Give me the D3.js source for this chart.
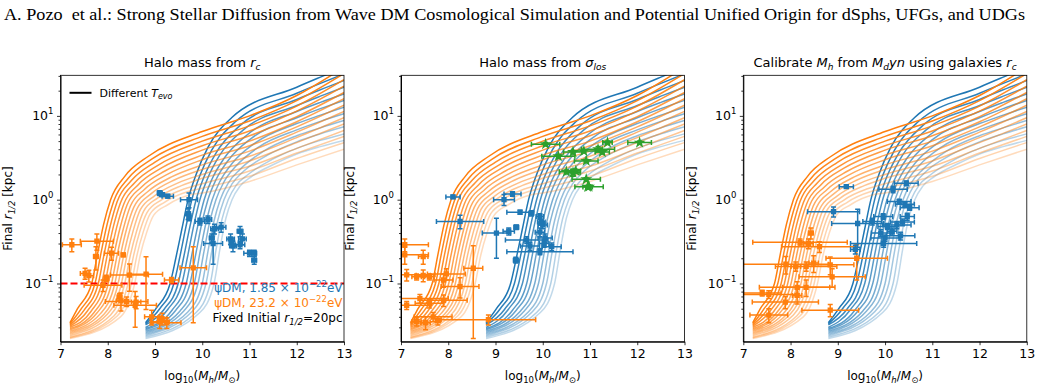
<!DOCTYPE html>
<html>
<head>
<meta charset="utf-8">
<script src="https://cdn.jsdelivr.net/npm/d3@7"></script>
<style>
body { margin: 0; background: #fff; }
svg { font-family: "DejaVu Sans", sans-serif; }
.axis path, .axis line { stroke: #000; }
.axis text { font-size: 12.5px; fill: #000; font-family: "DejaVu Sans", sans-serif; }
</style>
</head>
<body>
<div class="chart"></div>
<script>
// ---- data ----
const xTicks = [7, 8, 9, 10, 11, 12, 13];
const yMajor = [0.1, 1, 10];
const yMinor = [0.03, 0.04, 0.05, 0.06, 0.07, 0.08, 0.09, 0.2, 0.3, 0.4, 0.5, 0.6, 0.7, 0.8, 0.9,
                2, 3, 4, 5, 6, 7, 8, 9, 20, 30];

// model tracks, psiDM 23.2e-22 eV (orange), darkest first
const orangeCurves = [
  [[7.2,.034],[7.36,.05],[7.66,.1],[7.78,.22],[7.91,.5],[8.06,1.0],[8.36,1.9],[8.86,3.3],[10,6.5],[11,10],[12,17.5],[13,38]],
  [[7.2,.033],[7.43,.049],[7.73,.1],[7.85,.22],[7.98,.49],[8.13,.97],[8.43,1.79],[8.93,3.05],[10,5.7],[11,8.7],[12,15.2],[13,32]],
  [[7.2,.032],[7.5,.048],[7.8,.1],[7.92,.22],[8.05,.48],[8.2,.95],[8.5,1.69],[9.0,2.81],[10,5.0],[11,7.6],[12,13.1],[13,27]],
  [[7.2,.031],[7.57,.047],[7.87,.1],[7.99,.22],[8.12,.48],[8.27,.92],[8.57,1.59],[9.07,2.59],[10,4.4],[11,6.6],[12,11.4],[13,22.6]],
  [[7.2,.030],[7.64,.046],[7.94,.1],[8.06,.22],[8.19,.47],[8.34,.89],[8.64,1.5],[9.14,2.39],[10,3.9],[11,5.8],[12,9.8],[13,19]],
  [[7.2,.029],[7.71,.045],[8.01,.1],[8.13,.22],[8.26,.46],[8.41,.87],[8.71,1.41],[9.21,2.2],[10,3.4],[11,5.0],[12,8.5],[13,16]],
  [[7.2,.028],[7.78,.045],[8.08,.1],[8.2,.22],[8.33,.45],[8.48,.84],[8.78,1.33],[9.28,2.03],[10,3.0],[11,4.4],[12,7.4],[13,13.4]],
  [[7.2,.027],[7.85,.044],[8.15,.1],[8.27,.22],[8.4,.45],[8.55,.81],[8.85,1.25],[9.35,1.87],[10,2.6],[11,3.8],[12,6.4],[13,11.3]],
  [[7.2,.026],[7.92,.043],[8.22,.1],[8.34,.22],[8.47,.44],[8.62,.78],[8.92,1.18],[9.42,1.73],[10,2.3],[11,3.3],[12,5.5],[13,9.5]],
  [[7.2,.025],[7.99,.043],[8.29,.1],[8.41,.22],[8.54,.43],[8.69,.76],[8.99,1.11],[9.49,1.59],[10,2.0],[11,2.9],[12,4.8],[13,8]],
  [[7.2,.024],[8.06,.042],[8.36,.1],[8.48,.22],[8.61,.42],[8.76,.73],[9.06,1.05],[9.56,1.47],[10,1.8],[11,2.5],[12,4.1],[13,6.7]],
  [[7.2,.023],[8.13,.041],[8.43,.1],[8.55,.22],[8.68,.42],[8.83,.70],[9.13,.99],[9.63,1.35],[10,1.55],[11,2.2],[12,3.6],[13,5.7]],
  [[7.2,.0225],[8.2,.041],[8.5,.1],[8.62,.22],[8.75,.41],[8.9,.68],[9.2,.93],[9.7,1.25],[10,1.37],[11,1.9],[12,3.1],[13,4.8]],
  [[7.2,.022],[8.27,.04],[8.57,.1],[8.69,.22],[8.82,.40],[8.97,.65],[9.27,.87],[9.77,1.15],[10,1.2],[11,1.65],[12,2.6],[13,4.0]]
];

// model tracks, psiDM 1.85e-22 eV (blue), darkest first
const blueCurves = [
  [[8.8,.034],[9.02,.05],[9.32,.1],[9.44,.2],[9.57,.45],[9.7,1.0],[9.87,2.0],[10.12,4.2],[10.62,9.5],[12,22],[12.5,29],[13,38]],
  [[8.8,.033],[9.1,.05],[9.4,.1],[9.52,.2],[9.65,.46],[9.78,1.0],[9.95,1.94],[10.2,3.9],[10.7,8.5],[12,18.6],[12.5,24.4],[13,31.7]],
  [[8.8,.032],[9.19,.049],[9.49,.1],[9.61,.21],[9.74,.48],[9.87,1.0],[10.04,1.89],[10.29,3.6],[10.79,7.6],[12,15.7],[12.5,20.5],[13,26.4]],
  [[8.8,.030],[9.27,.049],[9.57,.1],[9.69,.21],[9.82,.49],[9.95,1.0],[10.12,1.83],[10.37,3.4],[10.87,6.8],[12,13.3],[12.5,17.2],[13,22]],
  [[8.8,.029],[9.36,.048],[9.66,.1],[9.78,.22],[9.91,.5],[10.04,1.0],[10.21,1.78],[10.46,3.1],[10.96,6.0],[12,11.3],[12.5,14.5],[13,18.3]],
  [[8.8,.028],[9.44,.048],[9.74,.1],[9.86,.22],[9.99,.52],[10.12,1.0],[10.29,1.73],[10.54,2.9],[11.04,5.4],[12,9.5],[12.5,12.2],[13,15.3]],
  [[8.8,.027],[9.53,.047],[9.83,.1],[9.95,.23],[10.08,.53],[10.21,1.0],[10.38,1.68],[10.63,2.7],[11.13,4.8],[12,8.1],[12.5,10.2],[13,12.7]],
  [[8.8,.026],[9.61,.047],[9.91,.1],[10.03,.23],[10.16,.55],[10.29,1.0],[10.46,1.63],[10.71,2.5],[11.21,4.3],[12,6.8],[12.5,8.6],[13,10.6]],
  [[8.8,.025],[9.7,.046],[10,.1],[10.12,.24],[10.25,.56],[10.38,1.0],[10.55,1.58],[10.8,2.3],[11.3,3.8],[12,5.8],[12.5,7.2],[13,8.8]],
  [[8.8,.024],[9.78,.046],[10.08,.1],[10.2,.24],[10.33,.57],[10.46,1.0],[10.63,1.54],[10.88,2.2],[11.38,3.4],[12,4.9],[12.5,6.1],[13,7.4]],
  [[8.8,.023],[9.87,.045],[10.17,.1],[10.29,.25],[10.42,.59],[10.55,1.0],[10.72,1.49],[10.97,2.0],[11.47,3.0],[12,4.1],[12.5,5.1],[13,6.1]],
  [[8.8,.022],[9.95,.045],[10.25,.1],[10.37,.25],[10.5,.6],[10.63,1.0],[10.8,1.45],[11.05,1.9],[11.55,2.7],[12,3.5],[12.5,4.3],[13,5.1]]
];

// galaxies: [log10 Mh, r1/2 kpc, x error (dex), y error (kpc)]
const p1Orange = [
  [7.24,.29,.2,.05],[7.77,.32,.35,.07],[7.75,.21,.05,.065],[8.08,.23,.15,.04],[8.33,.22,.03,.01],
  [7.52,.132,.1,.02],[7.6,.124,.1,.02],[7.97,.115,.05,.01],[7.9,.095,.4,.015],[8.46,.126,.4,.045],
  [8.81,.129,.35,.08],[8.25,.069,.05,.007],[8.28,.062,.1,.015],[8.4,.061,.45,.008],[8.58,.055,.45,.025],
  [8.6,.06,.1,.01],[8.93,.04,.15,.008],[9.1,.035,.2,.006],[9.25,.034,.3,.005],[9.15,.038,.1,.006],
  [9.35,.11,.15,.008],[9.81,.154,.28,.12]
];
const p1Blue = [
  [9.1,1.2,.05,.08],[9.15,1.15,.05,.06],[9.27,1.1,.12,.05],[9.72,1.0,.18,.2],[9.7,.68,.05,.1],
  [9.72,.62,.04,.06],[9.95,.55,.1,.05],[10.12,.58,.08,.06],[10.2,.35,.05,.04],[10.26,.45,.08,.06],
  [10.4,.47,.1,.06],[10.23,.3,.2,.13],[10.6,.34,.08,.05],[10.65,.28,.07,.04],[10.62,.31,.05,.04],
  [10.8,.42,.06,.06],[10.85,.34,.08,.05],[10.8,.29,.1,.03],[11.0,.23,.12,.02],[11.1,.19,.05,.02],
  [11.1,.23,.05,.02]
];
const p2Green = [
  [10.06,4.6,.3,.2],[11.37,4.8,.1,.2],[12.05,4.8,.25,.2],[10.33,3.3,.35,.15],[10.64,3.7,.2,.15],
  [10.87,3.8,.25,.15],[11.17,4.0,.35,.3],[11.26,3.7,.15,.2],[10.92,2.9,.25,.12],[10.5,2.16,.15,.1],
  [10.64,2.1,.15,.2],[10.7,2.2,.1,.1],[10.92,1.75,.3,.08],[10.98,1.43,.3,.08],[10.95,1.42,.1,.06]
];
const p2Blue = [
  [8.1,1.08,.15,.05],[8.25,.55,.5,.1],[9.36,1.17,.18,.07],[9.18,1.0,.22,.15],[9.52,.71,.28,.04],
  [9.02,.4,.3,.2],[9.28,.42,.12,.04],[9.44,.47,.05,.03],[9.43,.19,.05,.015],[9.76,.69,.05,.05],
  [9.94,.63,.08,.05],[10.0,.5,.1,.05],[9.66,.33,.45,.03],[9.73,.28,.2,.03],[9.94,.24,.7,.02],
  [9.94,.41,.1,.05],[10.05,.35,.15,.04],[10.03,.3,.1,.03],[10.19,.275,.2,.03],[9.97,.54,.08,.04]
];
const p2Orange = [
  [7.08,.29,.5,.05],[7.08,.22,.5,.05],[7.47,.21,.1,.04],[7.12,.127,.6,.02],[7.33,.12,.1,.01],
  [7.47,.125,.15,.02],[7.6,.12,.1,.01],[7.96,.13,.4,.02],[7.9,.11,.2,.02],[8.25,.092,.4,.025],
  [8.53,.152,.2,.13],[7.12,.055,.5,.006],[7.4,.066,.6,.008],[7.6,.058,.3,.007],[7.9,.063,.5,.01],
  [7.68,.04,.4,.005],[7.52,.034,.1,.006],[7.33,.035,.1,.004],[8.85,.037,1.0,.005],[7.78,.036,.05,.004]
];
const p3Blue = [
  [9.18,1.43,.15,.06],[8.91,.72,.55,.1],[9.42,.52,.55,.25],[9.37,.255,.1,.03],[10.45,1.57,.25,.1],
  [10.17,1.33,.3,.12],[10.3,.95,.25,.06],[10.42,.88,.2,.06],[10.52,.8,.2,.05],[9.96,.63,.2,.05],
  [10.47,.63,.15,.06],[10.37,.54,.25,.05],[10.05,.48,.2,.04],[10.25,.5,.3,.05],[9.91,.4,.2,.04],
  [10.15,.42,.1,.04],[9.97,.3,.7,.03],[10.33,.37,.3,.04],[9.73,.55,.2,.05],[10.0,.35,.3,.03]
];
const p3Orange = [
  [8.43,.4,.05,.06],[8.38,.3,.1,.04],[8.2,.31,1.0,.03],[8.61,.275,.8,.04],[7.9,.17,.9,.04],
  [8.11,.16,.1,.02],[8.33,.16,.65,.02],[8.49,.175,.1,.04],[8.84,.167,.5,.04],[9.4,.2,.65,.09],
  [8.88,.12,.7,.03],[8.14,.09,.8,.015],[8.33,.09,.5,.02],[8.14,.072,.1,.015],[7.4,.077,.4,.006],
  [7.54,.074,.6,.008],[7.89,.06,.7,.01],[7.54,.042,.4,.008],[8.84,.048,.6,.008]
];

// ---- layout ----
const C_BLUE = "#1f77b4", C_ORANGE = "#ff7f0e", C_GREEN = "#2ca02c";
var width = 1041, height = 386;
var panelLeft = [60.5, 401, 743.3];
var pw = 283.5, pTop = 75.3, pBot = 341.7, ph = pBot - pTop;

var svg = d3.select(".chart").append("svg")
    .attr("width", width)
    .attr("height", height);

svg.append("text")
    .attr("x", 4).attr("y", 20)
    .attr("textLength", 1021).attr("lengthAdjust", "spacingAndGlyphs")
    .style("font-family", "'Liberation Serif', 'Times New Roman', serif")
    .style("font-size", "17.5px")
    .text("A. Pozo\u00a0 et al.: Strong Stellar Diffusion from Wave DM Cosmological Simulation and Potential Unified Origin for dSphs, UFGs, and UDGs");

const xScale = d3.scaleLinear().domain([7, 13]).range([0, pw]);
const yScale = d3.scaleLog().domain([0.0202, 30.5]).range([ph, 0]);

const line = d3.line()
    .x(d => xScale(d[0]))
    .y(d => yScale(d[1]))
    .curve(d3.curveMonotoneX);

function supLabel(sel, base, exp) {
    sel.text(base);
    sel.append("tspan").attr("dy", -6).attr("font-size", "8.5px").text(exp);
}

function errorbars(g, data, color, symbol, size) {
    const grp = g.append("g").attr("stroke", color).attr("fill", color).attr("stroke-width", 1.5);
    data.forEach(d => {
        const cx = xScale(d[0]), cy = yScale(d[1]);
        const x0 = xScale(d[0] - d[2]), x1 = xScale(d[0] + d[2]);
        const y0 = yScale(Math.max(d[1] - d[3], 0.005)), y1 = yScale(d[1] + d[3]);
        grp.append("line").attr("x1", x0).attr("x2", x1).attr("y1", cy).attr("y2", cy);
        grp.append("line").attr("x1", cx).attr("x2", cx).attr("y1", y0).attr("y2", y1);
        [x0, x1].forEach(v => grp.append("line").attr("x1", v).attr("x2", v).attr("y1", cy - 2.5).attr("y2", cy + 2.5));
        [y0, y1].forEach(v => grp.append("line").attr("x1", cx - 2.5).attr("x2", cx + 2.5).attr("y1", v).attr("y2", v));
        grp.append("path")
            .attr("d", d3.symbol().type(symbol).size(size)())
            .attr("transform", `translate(${cx},${cy})`)
            .attr("stroke", "none");
    });
}

function drawPanel(k, points) {
    const g = svg.append("g").attr("transform", `translate(${panelLeft[k]},${pTop})`);

    g.append("clipPath").attr("id", "clip" + k)
        .append("rect").attr("width", pw).attr("height", ph);
    const plot = g.append("g").attr("clip-path", `url(#clip${k})`);

    // model tracks
    blueCurves.forEach((c, i) => {
        plot.append("path").attr("d", line(c))
            .attr("fill", "none").attr("stroke", C_BLUE).attr("stroke-width", 1.5)
            .attr("stroke-opacity", 1 - 0.72 * i / (blueCurves.length - 1));
    });
    orangeCurves.forEach((c, i) => {
        plot.append("path").attr("d", line(c))
            .attr("fill", "none").attr("stroke", C_ORANGE).attr("stroke-width", 1.5)
            .attr("stroke-opacity", 1 - 0.72 * i / (orangeCurves.length - 1));
    });

    if (k === 0) {
        plot.append("line")
            .attr("x1", 0).attr("x2", pw)
            .attr("y1", yScale(0.1)).attr("y2", yScale(0.1))
            .attr("stroke", "red").attr("stroke-width", 2)
            .attr("stroke-dasharray", "7,3");
    }

    points.forEach(p => errorbars(plot, p[0], p[1], p[2], p[3]));

    // axes
    const xAxis = d3.axisBottom(xScale).tickValues(xTicks).tickFormat(d3.format("d"))
        .tickSize(3.5).tickPadding(3.5).tickSizeOuter(0);
    g.append("g").attr("class", "axis x-axis")
        .attr("transform", `translate(0,${ph})`)
        .call(xAxis);

    const yAxis = d3.axisLeft(yScale).tickValues(yMajor).tickSize(3.5).tickPadding(3.5)
        .tickSizeOuter(0).tickFormat(() => "");
    const ya = g.append("g").attr("class", "axis y-axis").call(yAxis);
    ya.selectAll(".tick text").each(function(d) {
        supLabel(d3.select(this), "10", d === 0.1 ? "\u22121" : d === 1 ? "0" : "1");
    });
    g.append("g").attr("class", "axis")
        .call(d3.axisLeft(yScale).tickValues(yMinor).tickSize(2).tickFormat(() => "").tickSizeOuter(0))
        .select(".domain").remove();

    g.selectAll(".axis .tick line").attr("stroke-width", 0.8);
    g.append("rect").attr("width", pw).attr("height", ph)
        .attr("fill", "none").attr("stroke", "#000").attr("stroke-width", 0.8);

    // axis labels
    const xl = g.append("text").attr("x", pw / 2).attr("y", ph + 38.5)
        .attr("text-anchor", "middle").style("font-size", "12px");
    xl.append("tspan").text("log");
    xl.append("tspan").attr("dy", 3).attr("font-size", "8.5px").text("10");
    xl.append("tspan").attr("dy", -3).text("(");
    xl.append("tspan").attr("font-style", "italic").text("M");
    xl.append("tspan").attr("dy", 3).attr("font-size", "8.5px").attr("font-style", "italic").text("h");
    xl.append("tspan").attr("dy", -3).text("/");
    xl.append("tspan").attr("font-style", "italic").text("M");
    xl.append("tspan").attr("dy", 3).attr("font-size", "8.5px").text("\u2299");
    xl.append("tspan").attr("dy", -3).text(")");

    const ylx = [-48.5, -47.5, -47.5][k];
    const yl = g.append("text")
        .attr("transform", `translate(${ylx},${ph / 2}) rotate(-90)`)
        .attr("text-anchor", "middle").style("font-size", "12px");
    yl.append("tspan").text("Final ");
    yl.append("tspan").attr("font-style", "italic").text("r");
    yl.append("tspan").attr("dy", 3).attr("font-size", "8.5px").attr("font-style", "italic").text("1/2");
    yl.append("tspan").attr("dy", -3).text(" [kpc]");

    // title
    const t = g.append("text").attr("x", pw / 2).attr("y", -8.5)
        .attr("text-anchor", "middle").style("font-size", "13px");
    if (k === 0) {
        t.append("tspan").text("Halo mass from ");
        t.append("tspan").attr("font-style", "italic").text("r");
        t.append("tspan").attr("dy", 3).attr("font-size", "9px").attr("font-style", "italic").text("c");
    } else if (k === 1) {
        t.append("tspan").text("Halo mass from ");
        t.append("tspan").attr("font-style", "italic").text("\u03c3");
        t.append("tspan").attr("dy", 3).attr("font-size", "9px").attr("font-style", "italic").text("los");
    } else {
        t.append("tspan").text("Calibrate ");
        t.append("tspan").attr("font-style", "italic").text("M");
        t.append("tspan").attr("dy", 3).attr("font-size", "9px").attr("font-style", "italic").text("h");
        t.append("tspan").attr("dy", -3).text(" from ");
        t.append("tspan").attr("font-style", "italic").text("M");
        t.append("tspan").attr("dy", 3).attr("font-size", "9px").attr("font-style", "italic").text("d");
        t.append("tspan").attr("dy", -3).attr("font-style", "italic").text("yn");
        t.append("tspan").text(" using galaxies ");
        t.append("tspan").attr("font-style", "italic").text("r");
        t.append("tspan").attr("dy", 3).attr("font-size", "9px").attr("font-style", "italic").text("c");
    }
    return g;
}

const g1 = drawPanel(0, [[p1Orange, C_ORANGE, d3.symbolSquare, 28], [p1Blue, C_BLUE, d3.symbolSquare, 28]]);
drawPanel(1, [[p2Orange, C_ORANGE, d3.symbolSquare, 28], [p2Blue, C_BLUE, d3.symbolSquare, 28],
              [p2Green, C_GREEN, d3.symbolStar, 45]]);
drawPanel(2, [[p3Orange, C_ORANGE, d3.symbolSquare, 28], [p3Blue, C_BLUE, d3.symbolSquare, 28]]);

// legend and notes in the first panel
g1.append("line").attr("x1", 9).attr("x2", 31).attr("y1", 17.5).attr("y2", 17.5)
    .attr("stroke", "#000").attr("stroke-width", 2);
const lg = g1.append("text").attr("x", 39).attr("y", 21.5).style("font-size", "11px");
lg.append("tspan").text("Different ");
lg.append("tspan").attr("font-style", "italic").text("T");
lg.append("tspan").attr("dy", 2.5).attr("font-size", "8px").attr("font-style", "italic").text("evo");

const notes = [
    {color: C_BLUE, y: 292, mass: "1.85"},
    {color: C_ORANGE, y: 307, mass: "23.2"}
];
notes.forEach(n => {
    const t = svg.append("text").attr("x", 342.5).attr("y", n.y)
        .attr("text-anchor", "end").attr("fill", n.color).style("font-size", "12px");
    t.append("tspan").text("\u03c8DM, " + n.mass + " \u00d7 10");
    t.append("tspan").attr("dy", -5).attr("font-size", "8.5px").text("\u221222");
    t.append("tspan").attr("dy", 5).text("eV");
});
const fx = svg.append("text").attr("x", 342.5).attr("y", 321.5)
    .attr("text-anchor", "end").style("font-size", "12px");
fx.append("tspan").text("Fixed Initial ");
fx.append("tspan").attr("font-style", "italic").text("r");
fx.append("tspan").attr("dy", 3).attr("font-size", "8.5px").attr("font-style", "italic").text("1/2");
fx.append("tspan").attr("dy", -3).text("=20pc");
</script>
</body>
</html>
